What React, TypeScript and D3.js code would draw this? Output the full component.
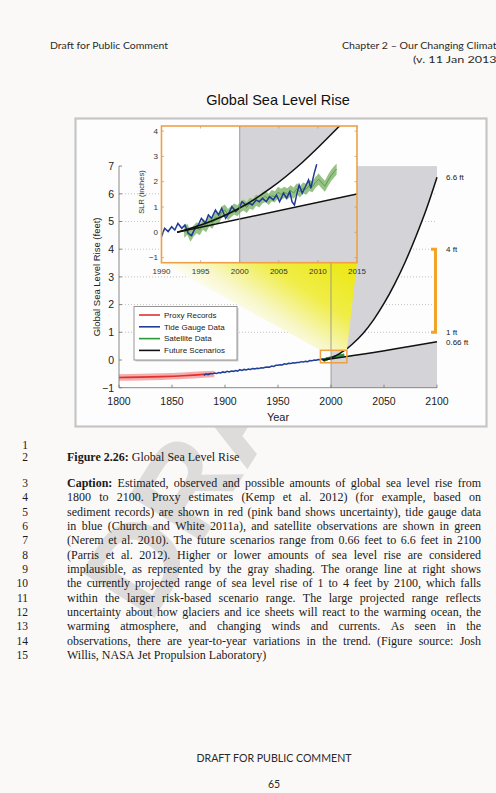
import React, { useMemo } from 'react';
import * as d3 from 'd3';

// ---------------- DATA ----------------
const proxyYears = [1800, 1820, 1840, 1860, 1880, 1886];
const proxyValues = [-0.63, -0.62, -0.6, -0.57, -0.52, -0.5];
const proxyBandYears = [1800, 1820, 1840, 1860, 1880, 1890];
const proxyBandLow = [-0.75, -0.74, -0.72, -0.69, -0.64, -0.61];
const proxyBandHigh = [-0.51, -0.5, -0.48, -0.45, -0.41, -0.39];

// tide gauge (feet), main panel
const tideGauge: [number, number][] = [
  [1880, -0.55], [1882, -0.51], [1884, -0.53], [1886, -0.49], [1888, -0.5], [1890, -0.47],
  [1892, -0.49], [1894, -0.45], [1896, -0.47], [1898, -0.43], [1900, -0.45], [1902, -0.41],
  [1904, -0.43], [1906, -0.4], [1908, -0.41], [1910, -0.38], [1912, -0.4], [1914, -0.35],
  [1916, -0.38], [1918, -0.34], [1920, -0.36], [1922, -0.33], [1924, -0.34], [1926, -0.31],
  [1928, -0.32], [1930, -0.3], [1932, -0.31], [1934, -0.28], [1936, -0.29], [1938, -0.26],
  [1940, -0.25], [1942, -0.26], [1944, -0.22], [1946, -0.23], [1948, -0.19], [1950, -0.19],
  [1952, -0.17], [1954, -0.18], [1956, -0.14], [1958, -0.15], [1960, -0.12], [1962, -0.13],
  [1964, -0.1], [1966, -0.11], [1968, -0.09], [1970, -0.09], [1972, -0.06], [1974, -0.07],
  [1976, -0.05], [1978, -0.06], [1980, -0.02], [1982, -0.03], [1984, 0.0], [1986, -0.01],
  [1988, 0.02], [1990, 0.01], [1992, 0.04], [1994, 0.03], [1996, 0.07], [1998, 0.06],
  [2000, 0.1], [2002, 0.11], [2004, 0.13], [2006, 0.14], [2008, 0.16], [2009, 0.21],
];

// tide gauge (inches), inset
const tideGaugeInset: [number, number][] = [
  [1990.0, -0.17], [1990.4, 0.16], [1990.85, 0.03], [1991.3, 0.22], [1991.7, 0.09], [1992.1, 0.35],
  [1992.6, 0.16], [1993.0, 0.29], [1993.4, -0.04], [1993.85, -0.13], [1994.3, 0.16], [1994.7, 0.29],
  [1995.1, 0.55], [1995.6, 0.36], [1996.0, 0.69], [1996.4, 0.55], [1996.9, 0.88], [1997.3, 0.69],
  [1997.7, 0.95], [1998.2, 0.55], [1998.6, 0.75], [1999.0, 1.01], [1999.5, 0.82], [1999.9, 0.95],
  [2000.3, 1.21], [2000.8, 1.08], [2001.2, 1.15], [2001.6, 1.08], [2002.1, 1.28], [2002.5, 1.21],
  [2002.9, 1.34], [2003.4, 1.21], [2003.8, 1.41], [2004.3, 1.28], [2004.7, 1.47], [2005.1, 1.21],
  [2005.6, 1.55], [2006.0, 1.35], [2006.4, 1.6], [2006.7, 1.2], [2007.0, 1.08], [2007.3, 1.5],
  [2007.6, 1.87], [2008.0, 1.55], [2008.4, 1.8], [2008.8, 2.07], [2009.1, 1.74], [2009.5, 2.3],
  [2009.85, 2.69],
];

// satellite altimetry (inches)
const satellite: [number, number][] = [
  [1992.9, 0.0], [1993.3, 0.12], [1993.7, -0.15], [1994.1, 0.05], [1994.5, 0.18], [1994.9, 0.1],
  [1995.3, 0.32], [1995.7, 0.22], [1996.1, 0.45], [1996.5, 0.36], [1996.9, 0.6], [1997.3, 0.55],
  [1997.7, 0.8], [1998.1, 0.88], [1998.5, 0.7], [1998.9, 0.82], [1999.3, 0.92], [1999.7, 0.85],
  [2000.1, 1.0], [2000.5, 1.08], [2000.9, 0.98], [2001.3, 1.15], [2001.7, 1.1], [2002.1, 1.27],
  [2002.5, 1.2], [2002.9, 1.36], [2003.3, 1.42], [2003.7, 1.3], [2004.1, 1.45], [2004.5, 1.4],
  [2004.9, 1.58], [2005.3, 1.5], [2005.7, 1.58], [2006.1, 1.52], [2006.5, 1.64], [2006.9, 1.55],
  [2007.3, 1.72], [2007.7, 1.6], [2008.1, 1.75], [2008.5, 1.7], [2008.9, 1.85], [2009.3, 1.8],
  [2009.7, 1.98], [2010.1, 2.1], [2010.5, 1.95], [2010.9, 1.82], [2011.3, 2.05], [2011.7, 2.25],
  [2012.1, 2.4], [2012.4, 2.5],
];
const satelliteSpread = 0.22;

const scenarioHighYears = [1992, 1996, 2000, 2004, 2008, 2012, 2016, 2020, 2030, 2040, 2050, 2060, 2070, 2080, 2090, 2100];
const scenarioHighValues = [0, 0.033, 0.08, 0.146, 0.23, 0.33, 0.44, 0.57, 0.95, 1.44, 2.04, 2.74, 3.54, 4.45, 5.45, 6.6];
const scenarioLowYears = [1992, 2015, 2100];
const scenarioLowValues = [0, 0.126, 0.66];

const mainXTicks = [1800, 1850, 1900, 1950, 2000, 2050, 2100];
const mainYTicks = [-1, 0, 1, 2, 3, 4, 5, 6, 7];
const gridLevels = [1, 2, 3, 4, 5, 6];
const insetXTicks = [1990, 1995, 2000, 2005, 2010, 2015];
const insetYTicks = [-1, 0, 1, 2, 3, 4];
const projectedRange = [1, 4];
const endLabelValues = [6.6, 4, 1, 0.66];
const endLabelTexts = ['6.6 ft', '4 ft', '1 ft', '0.66 ft'];
const legendLabels = ['Proxy Records', 'Tide Gauge Data', 'Satellite Data', 'Future Scenarios'];
const legendColors = ['#e0302c', '#1f3f96', '#2c9a34', '#111111'];

const captionLines: { n: string; bold?: string; text: string; justify: boolean }[] = [
  { n: '1', text: '', justify: false },
  { n: '2', bold: 'Figure 2.26:', text: 'Global Sea Level Rise', justify: false },
  { n: '3', bold: 'Caption:', text: 'Estimated, observed and possible amounts of global sea level rise from', justify: true },
  { n: '4', text: '1800 to 2100. Proxy estimates (Kemp et al. 2012) (for example, based on', justify: true },
  { n: '5', text: 'sediment records) are shown in red (pink band shows uncertainty), tide gauge data', justify: true },
  { n: '6', text: 'in blue (Church and White 2011a), and satellite observations are shown in green', justify: true },
  { n: '7', text: '(Nerem et al. 2010). The future scenarios range from 0.66 feet to 6.6 feet in 2100', justify: true },
  { n: '8', text: '(Parris et al. 2012). Higher or lower amounts of sea level rise are considered', justify: true },
  { n: '9', text: 'implausible, as represented by the gray shading. The orange line at right shows', justify: true },
  { n: '10', text: 'the currently projected range of sea level rise of 1 to 4 feet by 2100, which falls', justify: true },
  { n: '11', text: 'within the larger risk-based scenario range. The large projected range reflects', justify: true },
  { n: '12', text: 'uncertainty about how glaciers and ice sheets will react to the warming ocean, the', justify: true },
  { n: '13', text: 'warming atmosphere, and changing winds and currents. As seen in the', justify: true },
  { n: '14', text: 'observations, there are year-to-year variations in the trend. (Figure source: Josh', justify: true },
  { n: '15', text: 'Willis, NASA Jet Propulsion Laboratory)', justify: false },
];

// ---------------- LAYOUT ----------------
const W = 496, H = 793;
const SANS = "'Liberation Sans', Arial, sans-serif";
const SERIF = "'Liberation Serif', 'Times New Roman', serif";
const HEAD = "Lato, 'Open Sans', sans-serif";

const x = d3.scaleLinear().domain([1800, 2100]).range([119, 437]);
const y = d3.scaleLinear().domain([-1, 7]).range([387.7, 166.1]);
const ix = d3.scaleLinear().domain([1990, 2015]).range([161.5, 357]);
const iy = d3.scaleLinear().domain([-1.2, 4.2]).range([262.7, 126]);

const lowInterp = d3.scaleLinear().domain(scenarioLowYears).range(scenarioLowValues);
const highPts: [number, number][] = scenarioHighYears.map((yr, i) => [yr, scenarioHighValues[i]]);
const lowPts: [number, number][] = scenarioLowYears.map((yr, i) => [yr, scenarioLowValues[i]]);

function justifyLine(text: string, bold: string | undefined, width: number, fontSize: number, justify: boolean) {
  const canvas = document.createElement('canvas');
  const ctx = canvas.getContext('2d')!;
  const words: { w: string; b: boolean }[] = [];
  if (bold) bold.split(' ').forEach((w) => words.push({ w, b: true }));
  if (text) text.split(' ').forEach((w) => words.push({ w, b: false }));
  const widths = words.map((o) => {
    ctx.font = `${o.b ? 'bold ' : ''}${fontSize}px 'Liberation Serif'`;
    return ctx.measureText(o.w).width;
  });
  ctx.font = `${fontSize}px 'Liberation Serif'`;
  const space = ctx.measureText(' ').width;
  const total = d3.sum(widths);
  const gap = justify && words.length > 1 ? (width - total) / (words.length - 1) : space;
  let cx = 0;
  return words.map((o, i) => {
    const r = { ...o, x: cx };
    cx += widths[i] + gap;
    return r;
  });
}

export default function App() {
  const lineM = d3.line<[number, number]>().x((d) => x(d[0])).y((d) => y(d[1]));
  const lineMS = d3.line<[number, number]>().x((d) => x(d[0])).y((d) => y(d[1])).curve(d3.curveMonotoneX);
  const lineI = d3.line<[number, number]>().x((d) => ix(d[0])).y((d) => iy(d[1]));
  const lineIS = d3.line<[number, number]>().x((d) => ix(d[0])).y((d) => iy(d[1] * 12)).curve(d3.curveMonotoneX);

  const holeMain = d3.area<[number, number]>()
    .x((d) => x(d[0])).y0((d) => y(lowInterp(d[0]))).y1((d) => y(d[1])).curve(d3.curveMonotoneX)(highPts)!;
  const holeInset = d3.area<[number, number]>()
    .x((d) => ix(d[0])).y0((d) => iy(lowInterp(d[0]) * 12)).y1((d) => iy(d[1] * 12)).curve(d3.curveMonotoneX)(highPts)!;

  const proxyBand = d3.area<number>()
    .x((_, i) => x(proxyBandYears[i])).y0((_, i) => y(proxyBandLow[i])).y1((_, i) => y(proxyBandHigh[i]))
    .curve(d3.curveMonotoneX)(proxyBandYears)!;
  const proxyLine = lineMS(proxyYears.map((yr, i) => [yr, proxyValues[i]]))!;
  const satMain = lineM(satellite.map((d) => [d[0], d[1] / 12]))!;
  const satBand = d3.area<[number, number]>()
    .x((d) => ix(d[0])).y0((d) => iy(d[1] - satelliteSpread)).y1((d) => iy(d[1] + satelliteSpread))(satellite)!;

  const caption = useMemo(
    () => captionLines.map((l) => justifyLine(l.text, l.bold, 414, 12, l.justify)),
    []
  );

  const boxX0 = x(1990), boxX1 = x(2015), boxY0 = y(4.2 / 12), boxY1 = y(-1.2 / 12);
  const coneTop = iy(-1.2);

  return (
    <svg width={W} height={H} style={{ position: 'absolute', left: 0, top: 0 }} xmlns="http://www.w3.org/2000/svg">
      <defs>
        <mask id="holeMain" maskUnits="userSpaceOnUse" x={0} y={0} width={W} height={H}>
          <rect x={0} y={0} width={W} height={H} fill="white" />
          <path d={holeMain} fill="black" />
        </mask>
        <mask id="holeInset" maskUnits="userSpaceOnUse" x={0} y={0} width={W} height={H}>
          <rect x={0} y={0} width={W} height={H} fill="white" />
          <path d={holeInset} fill="black" />
        </mask>
        <clipPath id="insetClip">
          <rect x={ix(1990)} y={iy(4.2)} width={ix(2015) - ix(1990)} height={iy(-1.2) - iy(4.2)} />
        </clipPath>
        <linearGradient id="cone" gradientUnits="userSpaceOnUse" x1={350} y1={coneTop} x2={292} y2={350}>
          <stop offset="0" stopColor="#ece812" />
          <stop offset="0.45" stopColor="#f0ed48" />
          <stop offset="0.8" stopColor="#f8f7c8" />
          <stop offset="1" stopColor="#fdfdf6" />
        </linearGradient>
      </defs>

      <rect x={0} y={0} width={W} height={H} fill="#fbf9f7" />

      {/* watermark (under the figure) */}
      <text transform="translate(150,625) rotate(-58)" fontFamily={SANS} fontWeight="bold" fontSize={125} fill="#9a9a9a" opacity={0.3}>DRAFT</text>

      {/* header */}
      <text x={50} y={49} fontFamily={HEAD} fontSize={10} fill="#2a2a2a" textLength={118} lengthAdjust="spacingAndGlyphs">Draft for Public Comment</text>
      <text x={342} y={49} fontFamily={HEAD} fontSize={10} fill="#2a2a2a" textLength={160} lengthAdjust="spacingAndGlyphs">Chapter 2 – Our Changing Climate</text>
      <text x={413} y={63} fontFamily={HEAD} fontSize={10} fill="#2a2a2a" textLength={87} lengthAdjust="spacingAndGlyphs">(v. 11 Jan 2013)</text>

      {/* title */}
      <text x={278} y={105} textAnchor="middle" fontFamily={SANS} fontSize={14.5} fill="#111">Global Sea Level Rise</text>

      {/* figure frame */}
      <rect x={75.5} y={118.5} width={411} height={308} fill="#fdfdfd" stroke="#c6c6c6" strokeWidth={2.2} />

      {/* gridlines */}
      {gridLevels.map((g) => (
        <line key={g} x1={x(1800)} x2={x(2100)} y1={y(g)} y2={y(g)} stroke="#b5b5b5" strokeWidth={0.8} strokeDasharray="1,2" />
      ))}

      {/* gray implausible region */}
      <rect x={x(2000)} y={y(7)} width={x(2100) - x(2000)} height={y(-1) - y(7)} fill="#d4d4d8" mask="url(#holeMain)" />

      {/* proxy */}
      <path d={proxyBand} fill="#f3a3a3" opacity={0.9} />
      <path d={proxyLine} fill="none" stroke="#e0302c" strokeWidth={1.6} />
      {/* tide gauge */}
      <path d={lineM(tideGauge)!} fill="none" stroke="#1f3f96" strokeWidth={1.5} />
      {/* satellite */}
      <path d={satMain} fill="none" stroke="#2c9a34" strokeWidth={2.4} />
      {/* scenarios */}
      <path d={lineMS(highPts)!} fill="none" stroke="#111" strokeWidth={1.5} />
      <path d={lineMS(lowPts)!} fill="none" stroke="#111" strokeWidth={1.5} />

      {/* zoom cone */}
      <polygon
        points={`${ix(1990)},${coneTop} ${ix(2015)},${coneTop} ${boxX1},${boxY0} ${boxX0},${boxY0}`}
        fill="url(#cone)"
      />
      <line x1={x(2000)} x2={x(2000)} y1={y(-1)} y2={y(7)} stroke="#8a8a8a" strokeWidth={0.8} />
      <rect x={boxX0} y={boxY0} width={boxX1 - boxX0} height={boxY1 - boxY0} fill="none" stroke="#f0a040" strokeWidth={1.5} />

      {/* axes */}
      <line x1={x(1800)} x2={x(2100)} y1={y(-1)} y2={y(-1)} stroke="#7a7a7a" strokeWidth={0.9} />
      <line x1={x(1800)} x2={x(1800)} y1={y(-1)} y2={y(7)} stroke="#7a7a7a" strokeWidth={0.9} />
      {mainXTicks.map((t) => (
        <g key={t}>
          <line x1={x(t)} x2={x(t)} y1={y(-1)} y2={y(-1) - 3} stroke="#7a7a7a" strokeWidth={0.9} />
          <text x={x(t)} y={405} textAnchor="middle" fontFamily={SANS} fontSize={10.5} fill="#222">{t}</text>
        </g>
      ))}
      {mainYTicks.map((t) => (
        <g key={t}>
          <line x1={x(1800)} x2={x(1800) + 3} y1={y(t)} y2={y(t)} stroke="#7a7a7a" strokeWidth={0.9} />
          <text x={114} y={y(t) + 3.8} textAnchor="end" fontFamily={SANS} fontSize={10.5} fill="#222">{t < 0 ? `\u2212${-t}` : t}</text>
        </g>
      ))}
      <text x={278} y={421} textAnchor="middle" fontFamily={SANS} fontSize={11} fill="#222">Year</text>
      <text transform={`translate(100,${(y(-1) + y(7)) / 2}) rotate(-90)`} textAnchor="middle" fontFamily={SANS} fontSize={9.5} fill="#222">Global Sea Level Rise (feet)</text>

      {/* projected range bar */}
      <path
        d={`M${x(2100) - 6},${y(projectedRange[1])} H${x(2100) - 1.5} V${y(projectedRange[0])} H${x(2100) - 6}`}
        fill="none" stroke="#f2a428" strokeWidth={3}
      />
      {endLabelValues.map((v, i) => (
        <text key={i} x={446} y={y(v) + 3} fontFamily={SANS} fontSize={8} fill="#222">{endLabelTexts[i]}</text>
      ))}

      {/* legend */}
      <rect x={135.5} y={308} width={103} height={53.5} fill="#cfcfcf" />
      <rect x={134} y={306.5} width={103} height={53.5} fill="#ffffff" stroke="#8c8c8c" strokeWidth={0.9} />
      {legendLabels.map((l, i) => (
        <g key={l}>
          <line x1={139} x2={160} y1={315 + i * 11.8} y2={315 + i * 11.8} stroke={legendColors[i]} strokeWidth={1.6} />
          <text x={164} y={315 + i * 11.8 + 2.8} fontFamily={SANS} fontSize={8} fill="#222">{l}</text>
        </g>
      ))}

      {/* inset */}
      <rect x={ix(1990)} y={iy(4.2)} width={ix(2015) - ix(1990)} height={iy(-1.2) - iy(4.2)} fill="#ffffff" />
      <g clipPath="url(#insetClip)">
        <rect x={ix(2000)} y={iy(4.2)} width={ix(2015) - ix(2000)} height={iy(-1.2) - iy(4.2)} fill="#d4d4d8" mask="url(#holeInset)" />
        <path d={satBand} fill="#8cbb78" opacity={0.9} />
        <path d={lineI(satellite)!} fill="none" stroke="#5a9f4c" strokeWidth={1} />
        <path d={lineI(tideGaugeInset)!} fill="none" stroke="#1f3a94" strokeWidth={1.5} />
        <path d={lineIS(highPts)!} fill="none" stroke="#111" strokeWidth={1.5} />
        <path d={lineIS(lowPts)!} fill="none" stroke="#111" strokeWidth={1.5} />
        <line x1={ix(2000)} x2={ix(2000)} y1={iy(-1.2)} y2={iy(4.2)} stroke="#8a8a8a" strokeWidth={0.8} />
      </g>
      {insetXTicks.map((t) => (
        <g key={t}>
          <line x1={ix(t)} x2={ix(t)} y1={iy(-1.2)} y2={iy(-1.2) - 2.5} stroke="#999" strokeWidth={0.7} />
          <line x1={ix(t)} x2={ix(t)} y1={iy(4.2)} y2={iy(4.2) + 2.5} stroke="#999" strokeWidth={0.7} />
          <text x={ix(t)} y={274} textAnchor="middle" fontFamily={SANS} fontSize={8} fill="#333">{t}</text>
        </g>
      ))}
      {insetYTicks.map((t) => (
        <g key={t}>
          <line x1={ix(1990)} x2={ix(1990) + 2.5} y1={iy(t)} y2={iy(t)} stroke="#999" strokeWidth={0.7} />
          <line x1={ix(2015)} x2={ix(2015) - 2.5} y1={iy(t)} y2={iy(t)} stroke="#999" strokeWidth={0.7} />
          <text x={158} y={iy(t) + 2.8} textAnchor="end" fontFamily={SANS} fontSize={8} fill="#333">{t < 0 ? `\u2212${-t}` : t}</text>
        </g>
      ))}
      <rect x={ix(1990)} y={iy(4.2)} width={ix(2015) - ix(1990)} height={iy(-1.2) - iy(4.2)} fill="none" stroke="#efa048" strokeWidth={1.6} />
      <text transform={`translate(144,192) rotate(-90)`} textAnchor="middle" fontFamily={SANS} fontSize={7.5} fill="#333">SLR (inches)</text>

      {/* caption */}
      {captionLines.map((l, i) => {
        const yy = i === 0 ? 449 : i === 1 ? 461 : 487 + (i - 2) * 14.33;
        return (
          <g key={l.n}>
            <text x={28} y={yy} textAnchor="end" fontFamily={SERIF} fontSize={11.5} fill="#1a1a1a">{l.n}</text>
            {caption[i].length > 0 && (
              <text y={yy} fontFamily={SERIF} fontSize={12} fill="#1a1a1a">
                {caption[i].map((w, j) => (
                  <tspan key={j} x={67 + w.x} fontWeight={w.b ? 'bold' : 'normal'}>{w.w}</tspan>
                ))}
              </text>
            )}
          </g>
        );
      })}

      {/* footer */}
      <text x={274} y={762} textAnchor="middle" fontFamily={HEAD} fontSize={10.5} fill="#2a2a2a" textLength={155} lengthAdjust="spacingAndGlyphs">DRAFT FOR PUBLIC COMMENT</text>
      <text x={274} y={788} textAnchor="middle" fontFamily={HEAD} fontSize={10.5} fill="#2a2a2a">65</text>
    </svg>
  );
}
